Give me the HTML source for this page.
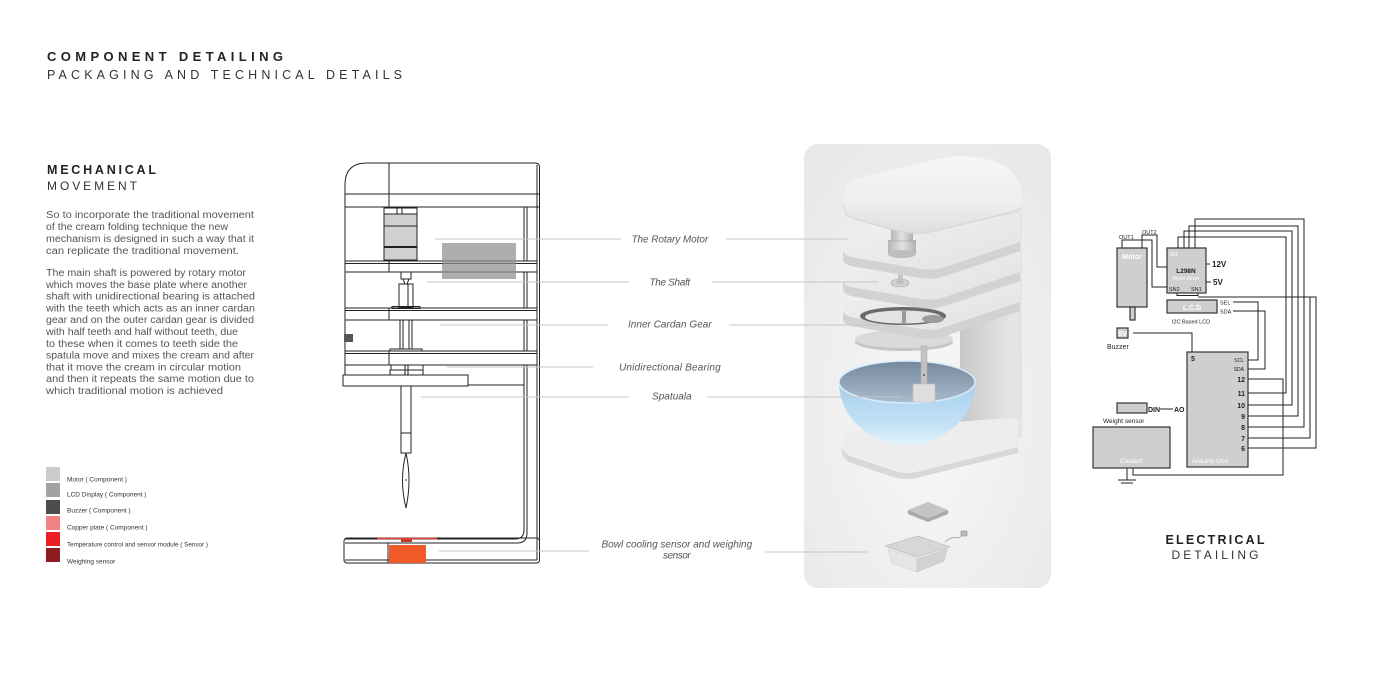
<!DOCTYPE html>
<html><head><meta charset="utf-8"><style>
html,body{margin:0;padding:0;background:#fff;}
svg{display:block;}
text{font-family:"Liberation Sans",Arial,sans-serif;}
</style></head><body>
<svg width="1400" height="700" viewBox="0 0 1400 700" xmlns="http://www.w3.org/2000/svg">
<defs>
<radialGradient id="panelG" cx="50%" cy="60%" r="70%">
<stop offset="0" stop-color="#f8f8f8"/><stop offset="1" stop-color="#e8e8e8"/>
</radialGradient>
<linearGradient id="capG" x1="0" y1="0" x2="0" y2="1">
<stop offset="0" stop-color="#f6f6f6"/><stop offset="0.6" stop-color="#eeeeee"/><stop offset="1" stop-color="#dedede"/>
</linearGradient>
<linearGradient id="topG" x1="0" y1="0" x2="1" y2="1">
<stop offset="0" stop-color="#f1f1f1"/><stop offset="1" stop-color="#e2e2e2"/>
</linearGradient>
<linearGradient id="wallG" x1="0" y1="0" x2="1" y2="0">
<stop offset="0" stop-color="#c8c8c8"/><stop offset="1" stop-color="#e3e3e3"/>
</linearGradient>
<linearGradient id="motG" x1="0" y1="0" x2="1" y2="0">
<stop offset="0" stop-color="#b5b5b5"/><stop offset="0.5" stop-color="#e2e2e2"/><stop offset="1" stop-color="#b0b0b0"/>
</linearGradient>
<linearGradient id="bowlOut" x1="0" y1="0" x2="0" y2="1">
<stop offset="0" stop-color="#a4cfec"/><stop offset="0.7" stop-color="#c5e2f6"/><stop offset="1" stop-color="#e4f3fd"/>
</linearGradient>
<linearGradient id="bowlIn" x1="0" y1="0" x2="0" y2="1">
<stop offset="0" stop-color="#74889c"/><stop offset="1" stop-color="#aabdce"/>
</linearGradient>
<g id="shelf">
<path d="M843,250 Q843,243 853,241 L1020,213 L1020,242 L945,267 Q934,271 921,269 L856,258 Q843,256 843,250 Z" fill="url(#topG)"/>
<path d="M843,250 Q843,256 856,258 L921,269 Q934,271 945,267 L1020,242 L1020,251 L945,276 Q934,280 921,278 L856,267 Q843,265 843,259 Z" fill="#d2d2d2"/>
</g>
</defs>

<!-- Titles -->
<text x="47" y="61" font-size="13" font-weight="bold" fill="#222" textLength="236" lengthAdjust="spacing">COMPONENT DETAILING</text>
<text x="47" y="79" font-size="12.5" fill="#333" textLength="355" lengthAdjust="spacing">PACKAGING AND TECHNICAL DETAILS</text>
<text x="47" y="174" font-size="12.5" font-weight="bold" fill="#222" textLength="109" lengthAdjust="spacing">MECHANICAL</text>
<text x="47" y="190" font-size="12" fill="#333" textLength="90" lengthAdjust="spacing">MOVEMENT</text>

<!-- Paragraph -->
<g font-size="10" fill="#555">
<text x="46" y="218" textLength="208" lengthAdjust="spacingAndGlyphs">So to incorporate the traditional movement</text>
<text x="46" y="230" textLength="182" lengthAdjust="spacingAndGlyphs">of the cream folding technique the new</text>
<text x="46" y="242" textLength="208" lengthAdjust="spacingAndGlyphs">mechanism is designed in such a way that it</text>
<text x="46" y="254" textLength="193" lengthAdjust="spacingAndGlyphs">can replicate the traditional movement.</text>
<text x="46" y="276" textLength="200" lengthAdjust="spacingAndGlyphs">The main shaft is powered by rotary motor</text>
<text x="46" y="288" textLength="201" lengthAdjust="spacingAndGlyphs">which moves the base plate where another</text>
<text x="46" y="299.6" textLength="209" lengthAdjust="spacingAndGlyphs">shaft with unidirectional bearing is attached</text>
<text x="46" y="311.4" textLength="209" lengthAdjust="spacingAndGlyphs">with the teeth which acts as an inner cardan</text>
<text x="46" y="323.2" textLength="208" lengthAdjust="spacingAndGlyphs">gear and on the outer cardan gear is divided</text>
<text x="46" y="335" textLength="192" lengthAdjust="spacingAndGlyphs">with half teeth and half without teeth, due</text>
<text x="46" y="346.8" textLength="192" lengthAdjust="spacingAndGlyphs">to these when it comes to teeth side the</text>
<text x="46" y="358.6" textLength="208" lengthAdjust="spacingAndGlyphs">spatula move and mixes the cream and after</text>
<text x="46" y="370.4" textLength="195" lengthAdjust="spacingAndGlyphs">that it move the cream in circular motion</text>
<text x="46" y="382.2" textLength="208" lengthAdjust="spacingAndGlyphs">and then it repeats the same motion due to</text>
<text x="46" y="394" textLength="177" lengthAdjust="spacingAndGlyphs">which traditional motion is achieved</text>
</g>

<!-- Legend -->
<rect x="46" y="467" width="14" height="14" fill="#cbcbcb"/>
<rect x="46" y="483" width="14" height="14" fill="#a2a2a2"/>
<rect x="46" y="500" width="14" height="14" fill="#4d4d4d"/>
<rect x="46" y="516" width="14" height="14" fill="#f08282"/>
<rect x="46" y="532" width="14" height="14" fill="#ec2024"/>
<rect x="46" y="548" width="14" height="14" fill="#8e1b1f"/>
<g font-size="6.5" fill="#333">
<text x="67" y="481.5">Motor ( Component )</text>
<text x="67" y="496.5">LCD Display ( Component )</text>
<text x="67" y="512.5">Buzzer ( Component )</text>
<text x="67" y="529.5">Copper plate ( Component )</text>
<text x="67" y="546.5" textLength="141" lengthAdjust="spacingAndGlyphs">Temperature control and sensor module  ( Sensor )</text>
<text x="67" y="563.5">Weighing sensor</text>
</g>

<!-- Mechanical drawing -->
<rect x="384" y="208" width="33" height="52" fill="#d0d0d0"/>
<rect x="384" y="208" width="33" height="6" fill="#fff"/>
<g stroke="#222" stroke-width="1" fill="none">
<path d="M345,386 V185 Q345,163 367,163 H535 Q539.5,163 539.5,167 V560"/>
<line x1="537" y1="165" x2="537" y2="560"/>
<line x1="345" y1="194" x2="539" y2="194"/>
<line x1="345" y1="207" x2="539" y2="207"/>
<line x1="389" y1="163" x2="389" y2="207"/>
<path d="M524,207 V530 Q524,539 515,539 H345"/>
<path d="M527,207 V533 Q527,543 517,543 H345"/>
<rect x="344" y="538" width="195.5" height="25" rx="3"/>
<line x1="345" y1="560" x2="537" y2="560"/>
<line x1="388" y1="543" x2="388" y2="563"/>
<!-- shelves -->
<rect x="345" y="261" width="192" height="11" fill="#fff"/>
<line x1="345" y1="263.5" x2="537" y2="263.5"/>
<line x1="389" y1="261" x2="389" y2="272"/>
<rect x="345" y="308" width="192" height="12" fill="#fff"/>
<line x1="345" y1="310.5" x2="537" y2="310.5"/>
<line x1="389" y1="308" x2="389" y2="320"/>
<rect x="345" y="351" width="192" height="14" fill="#fff"/>
<line x1="345" y1="353.5" x2="537" y2="353.5"/>
<line x1="389" y1="351" x2="389" y2="365"/>
<rect x="343" y="375" width="125" height="11" fill="#fff"/>
<line x1="468" y1="385" x2="524" y2="385"/>
<rect x="391" y="365" width="32" height="5"/>
<rect x="390" y="370" width="33" height="5"/>
<line x1="405" y1="365" x2="405" y2="375"/>
<line x1="408" y1="365" x2="408" y2="375"/>
<!-- motor -->
<rect x="384" y="208" width="33" height="52"/>
<rect x="397" y="208" width="5" height="6"/>
<line x1="384" y1="214" x2="417" y2="214"/>
<line x1="384" y1="226" x2="417" y2="226"/>
<line x1="384" y1="247" x2="417" y2="247" stroke-width="2"/>
<!-- shaft -->
<rect x="401" y="272" width="10" height="7"/>
<path d="M403,279 L405,284 M409,279 L407,284"/>
<rect x="399" y="284" width="14" height="23"/>
<line x1="408" y1="284" x2="408" y2="307"/>
<rect x="392" y="306.5" width="28" height="2"/>
<line x1="400" y1="320" x2="400" y2="349"/>
<line x1="403" y1="320" x2="403" y2="349"/>
<line x1="409" y1="320" x2="409" y2="349"/>
<line x1="412" y1="320" x2="412" y2="349"/>
<rect x="390" y="349" width="32" height="2"/>
<line x1="401" y1="386" x2="401" y2="433"/>
<line x1="411" y1="386" x2="411" y2="433"/>
<rect x="401" y="433" width="10" height="20"/>
<path d="M406,453 Q399,480 406,508 Q412,480 406,453 Z"/>
</g>
<circle cx="406" cy="480" r="0.8" fill="#222"/>
<rect x="442" y="243" width="74" height="36" fill="#8f8f8f" opacity="0.72"/>
<rect x="344" y="334" width="9" height="8" fill="#555"/>
<rect x="389" y="545" width="37" height="18" fill="#f15a29"/>
<line x1="377" y1="538.5" x2="437" y2="538.5" stroke="#e8403a" stroke-width="1.5"/>
<rect x="401" y="539" width="11" height="3" fill="#c0392b"/>

<!-- Render panel -->
<rect x="804" y="144" width="247" height="444" rx="14" fill="url(#panelG)"/>
<!-- wall -->
<path d="M960,214 L1008,202 L1008,440 L960,452 Z" fill="url(#wallG)"/>
<path d="M1008,202 L1022,194 L1022,437 L1008,445 Z" fill="#e4e4e4"/>
<!-- base -->
<path d="M842,440 Q843,432 856,430 L1008,418 L1018,420 L1018,447 L916,472 Q905,475 892,470 L850,456 Q842,452 842,446 Z" fill="#ededed"/>
<path d="M842,446 Q842,452 850,456 L892,470 Q905,475 916,472 L1018,447 L1018,453 L916,478 Q904,481 890,476 L849,462 Q842,458 842,452 Z" fill="#d8d8d8"/>
<!-- bowl -->
<path d="M839,382 A68,63 0 0 0 975,382 Z" fill="url(#bowlOut)"/>
<ellipse cx="907" cy="382" rx="68" ry="21" fill="url(#bowlIn)" stroke="#d8ecfa" stroke-width="1.5"/>
<!-- disc -->
<ellipse cx="904" cy="342" rx="49" ry="9" fill="#c6c6c6"/>
<ellipse cx="904" cy="339" rx="49" ry="9" fill="#dadada"/>
<!-- shaft + spatula -->
<rect x="921" y="346" width="6" height="42" fill="#c2c2c2" stroke="#aaa" stroke-width="0.5"/>
<rect x="913" y="384" width="22" height="18" fill="#dedede" stroke="#bdbdbd" stroke-width="0.6"/>
<circle cx="924" cy="375" r="1" fill="#555"/>
<!-- shelf3 -->
<use href="#shelf" transform="translate(0,60)"/>
<ellipse cx="903" cy="316" rx="43" ry="9" fill="#6a6a6a"/>
<ellipse cx="903" cy="317" rx="38" ry="6.5" fill="#e4e4e4"/>
<ellipse cx="933" cy="319" rx="11" ry="4" fill="#9a9a9a"/>
<rect x="902" y="311" width="4" height="12" fill="#9a9a9a"/>
<!-- shelf2 -->
<use href="#shelf" transform="translate(0,30)"/>
<rect x="898" y="268" width="5" height="15" fill="#c4c4c4"/>
<ellipse cx="900" cy="283" rx="9" ry="4" fill="#d0d0d0" stroke="#aaa" stroke-width="0.6"/>
<ellipse cx="900" cy="282" rx="4" ry="2" fill="#bcbcbc"/>
<!-- shelf1 -->
<use href="#shelf"/>
<!-- motor cyl -->
<rect x="888" y="240" width="28" height="14" fill="url(#motG)"/>
<ellipse cx="902" cy="254" rx="14" ry="4" fill="#bdbdbd"/>
<rect x="891" y="224" width="22" height="17" fill="url(#motG)"/>
<line x1="888" y1="241" x2="916" y2="241" stroke="#a8a8a8" stroke-width="0.8"/>
<!-- cap -->
<path d="M844,205 L844,192 Q846,180 866,176 L948,157 Q965,154 990,160 Q1018,168 1022,192 L1022,208 L1012,212 L935,231 Q915,236 893,230 L852,218 Q844,215 844,205 Z" fill="url(#capG)"/>
<path d="M844,205 Q844,215 852,218 L893,230 Q915,236 935,231 L1012,212 L1022,208" fill="none" stroke="#d4d4d4" stroke-width="1"/>
<!-- sensor plate -->
<path d="M908,510 L928,502 L948,510 L928,518 Z" fill="#c4c4c4"/>
<path d="M908,510 L928,518 L948,510 L948,514 L928,522 L908,514 Z" fill="#a9a9a9"/>
<!-- sensor base -->
<path d="M888,549 L917,559 L917,572 L892,563 Z" fill="#e6e6e6" stroke="#c8c8c8" stroke-width="0.5"/>
<path d="M917,559 L947,549 L944,561 L917,572 Z" fill="#d2d2d2" stroke="#c0c0c0" stroke-width="0.5"/>
<path d="M885,546 L918,536 L950,547 L917,557 Z" fill="#d7d7d7" stroke="#b5b5b5" stroke-width="0.6"/>
<path d="M945,542 Q952,536 958,538 L963,535" stroke="#aaa" stroke-width="1" fill="none"/>
<rect x="961" y="531" width="6" height="5" fill="#bbb" stroke="#888" stroke-width="0.5"/>

<!-- Label lines -->
<g stroke="#c6c6c6" stroke-width="1">
<line x1="435" y1="239" x2="621" y2="239"/><line x1="726" y1="239" x2="848" y2="239"/>
<line x1="427" y1="282" x2="629" y2="282"/><line x1="712" y1="282" x2="878" y2="282"/>
<line x1="440" y1="325" x2="608" y2="325"/><line x1="729" y1="325" x2="880" y2="325"/>
<line x1="447" y1="367" x2="593" y2="367"/>
<line x1="421" y1="397" x2="629" y2="397"/><line x1="707" y1="397" x2="902" y2="397"/>
<line x1="439" y1="551" x2="589" y2="551"/><line x1="765" y1="552" x2="867" y2="552"/>
</g>
<g font-size="10" font-style="italic" fill="#555" text-anchor="middle" letter-spacing="0.3">
<text x="670" y="242.5" textLength="77">The Rotary Motor</text>
<text x="670" y="285.5" textLength="41">The Shaft</text>
<text x="670" y="327.5" textLength="84">Inner Cardan Gear</text>
<text x="670" y="370.5" textLength="102">Unidirectional Bearing</text>
<text x="672" y="399.5" textLength="40">Spatuala</text>
<text x="677" y="547.5" textLength="151">Bowl cooling sensor and weighing</text>
<text x="677" y="558.5" textLength="28">sensor</text>
</g>

<!-- Electrical -->
<g stroke="#222" stroke-width="1" fill="none">
<path d="M1122,248 V240 H1152 V287 H1167"/>
<path d="M1142,248 V235 H1157 V267 H1167"/>
<path d="M1178,248 V237 H1286 V393 H1248"/>
<path d="M1184,248 V231 H1292 V405 H1248"/>
<path d="M1189,248 V226 H1298 V416 H1248"/>
<path d="M1195,248 V219 H1304 V427 H1248"/>
<path d="M1200,264 H1210"/>
<path d="M1204,282 H1211"/>
<path d="M1177,293 V295.5 H1198 V293"/>
<path d="M1198,297 H1316 V448 H1248"/>
<path d="M1310,297 V438 H1248"/>
<path d="M1233,302 H1258 V360 H1248"/>
<path d="M1233,311 H1265 V369 H1248"/>
<path d="M1248,379 H1283 V475 H1133 V468"/>
<path d="M1133,333 H1192 V352"/>
<path d="M1160,409 H1173"/>
<path d="M1127,468 V480 M1118,480 H1136 M1121,483 H1133"/>
</g>
<g fill="#cfcfcf" stroke="#333" stroke-width="1.2">
<rect x="1117" y="248" width="30" height="59"/>
<rect x="1130" y="307" width="5" height="13"/>
<rect x="1167" y="248" width="39" height="45"/>
<rect x="1167" y="300" width="50" height="13"/>
<rect x="1117" y="328" width="11" height="10"/>
<rect x="1187" y="352" width="61" height="115"/>
<rect x="1117" y="403" width="30" height="10"/>
<rect x="1093" y="427" width="77" height="41"/>
</g>
<g font-size="5.5" fill="#222">
<text x="1119" y="239">OUT1</text>
<text x="1142" y="234">OUT2</text>
<text x="1169" y="291">SN2</text>
<text x="1191" y="291">SN1</text>
<text x="1220" y="304.5">SEL</text>
<text x="1220" y="313.5">SDA</text>
<text x="1191" y="323.5" text-anchor="middle">I2C Based LCD</text>
</g>
<g font-size="7" fill="#fff" text-anchor="middle" font-weight="bold">
<text x="1132" y="259">Motor</text>
<text x="1192" y="310">L.C.D</text>
<text x="1122.5" y="336">5V</text>
</g>
<g font-size="5" fill="#fff">
<text x="1170" y="256">IN1</text>
<text x="1186" y="280" text-anchor="middle">Motor driver</text>
<text x="1192" y="463" font-size="6.5">Arduino Uno</text>
<text x="1131" y="463" font-size="6.5" text-anchor="middle">Coolant</text>
</g>
<text x="1186" y="273" font-size="6.5" font-weight="bold" fill="#222" text-anchor="middle">L298N</text>
<g font-size="8" font-weight="bold" fill="#222">
<text x="1212" y="267">12V</text>
<text x="1213" y="285">5V</text>
</g>
<text x="1107" y="349" font-size="7" fill="#222">Buzzer</text>
<text x="1103" y="423" font-size="6.5" fill="#222">Weight sensor</text>
<g font-size="7" font-weight="bold" fill="#222">
<text x="1148" y="412">DIN</text>
<text x="1174" y="412">AO</text>
<text x="1191" y="361">5</text>
</g>
<g font-size="5" fill="#222" text-anchor="end">
<text x="1244" y="362">SCL</text>
<text x="1244" y="371">SDA</text>
</g>
<g font-size="7" font-weight="bold" fill="#222" text-anchor="end">
<text x="1245" y="382">12</text>
<text x="1245" y="396">11</text>
<text x="1245" y="408">10</text>
<text x="1245" y="419">9</text>
<text x="1245" y="430">8</text>
<text x="1245" y="441">7</text>
<text x="1245" y="451">6</text>
</g>
<text x="1215" y="544" font-size="12.5" font-weight="bold" fill="#222" text-anchor="middle" textLength="99" lengthAdjust="spacing">ELECTRICAL</text>
<text x="1215" y="559" font-size="12" fill="#333" text-anchor="middle" textLength="87" lengthAdjust="spacing">DETAILING</text>
</svg>
</body></html>
